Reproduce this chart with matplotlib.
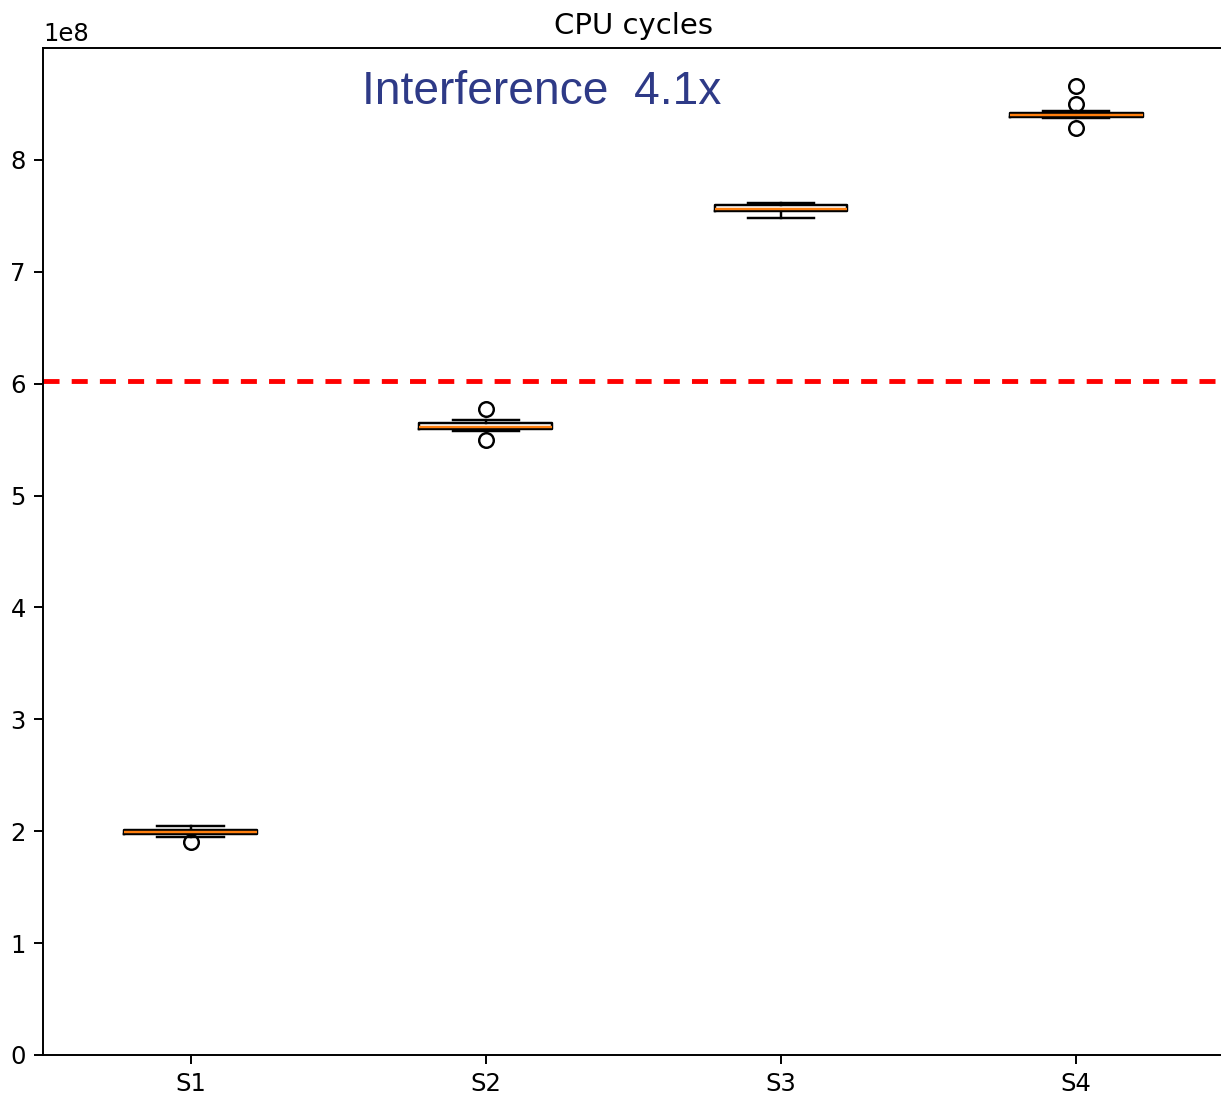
import matplotlib
matplotlib.use('Agg')
import matplotlib.pyplot as plt

labels = ['S1', 'S2', 'S3', 'S4']
med = [1.991e8, 5.610e8, 7.562e8, 8.404e8]
q1 = [1.972e8, 5.592e8, 7.545e8, 8.382e8]
q3 = [2.012e8, 5.650e8, 7.594e8, 8.422e8]
whislo = [1.944e8, 5.580e8, 7.485e8, 8.371e8]
whishi = [2.051e8, 5.679e8, 7.612e8, 8.433e8]
fliers = [[1.90e8], [5.774e8, 5.497e8], [], [8.661e8, 8.497e8, 8.288e8]]
threshold = 6.02e8

stats = []
for i in range(len(labels)):
    stats.append({'label': labels[i], 'med': med[i], 'q1': q1[i], 'q3': q3[i],
                  'whislo': whislo[i], 'whishi': whishi[i], 'fliers': fliers[i]})

dpi = 175
fig = plt.figure(figsize=(1221 / dpi, 1104 / dpi), dpi=dpi)
ax = fig.add_axes([0.0352, 0.0444, 0.967, 0.912])

ax.bxp(stats)
ax.axhline(threshold, color='red', linestyle='--', linewidth=2, dashes=(3.3, 2.5))
ax.set_ylim(bottom=0)
ax.set_title('CPU cycles')
ax.text(2.19, 8.61e8, 'Interference  4.1x', ha='center', va='center',
        fontsize=19, color='#2e3a87', family='Liberation Sans')

fig.savefig('out.png', dpi=dpi)
